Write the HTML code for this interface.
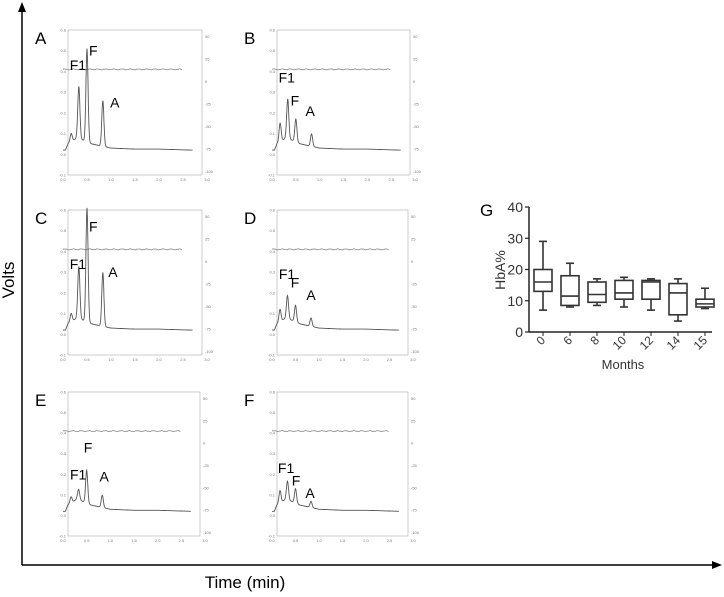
<!DOCTYPE html>
<html><head><meta charset="utf-8"><style>
body{margin:0;background:#fff;font-family:"Liberation Sans",sans-serif}
svg{display:block}
</style></head><body>
<svg id="fig" width="724" height="597">
<g>
<line x1="22" y1="565" x2="22" y2="8" stroke="#000" stroke-width="1.5"/>
<polygon points="22,2 18,12 26,12" fill="#000"/>
<line x1="22" y1="565" x2="715" y2="565" stroke="#000" stroke-width="1.5"/>
<polygon points="722,565 712,561 712,569" fill="#000"/>
<text x="14" y="280" font-size="17" text-anchor="middle" transform="rotate(-90 14 280)">Volts</text>
<text x="245" y="588" font-size="17" text-anchor="middle">Time (min)</text>
</g>
<g id="chroms"></g>
<g id="boxg"></g>
</svg>
<script>
const panelNames=["A","B","C","D","E","F"];
const peakTimes=[0.17,0.33,0.50,0.83];
const peakA=[0.04,0.25,0.45,0.22];
const peakB=[0.09,0.19,0.11,0.06];
const peakC=[0.04,0.25,0.55,0.26];
const peakD=[0.06,0.11,0.08,0.04];
const peakE=[0.03,0.05,0.16,0.06];
const peakF=[0.06,0.09,0.07,0.03];
const baseT=[0.0,0.05,0.1,0.3,0.6,1.0,1.5,2.0,2.7];
const baseV=[0.02,0.02,0.05,0.08,0.05,0.03,0.025,0.025,0.02];
const labF1=[[0.31,0.43],[0.31,0.37],[0.31,0.34],[0.32,0.29],[0.32,0.20],[0.30,0.23]];
const labF=[[0.63,0.50],[0.48,0.26],[0.63,0.52],[0.49,0.25],[0.53,0.33],[0.51,0.17]];
const labA=[[1.08,0.25],[0.80,0.21],[1.04,0.30],[0.83,0.19],[0.87,0.19],[0.81,0.11]];
const allPeaks=[peakA,peakB,peakC,peakD,peakE,peakF];
const frames=[[63,30,207,175],[272,30,415,175],[63,210,207,355],[272,210,413,355],[63,392,205,536],[272,392,413,536]];
const NS="http://www.w3.org/2000/svg";
function mk(t,a,p){const e=document.createElementNS(NS,t);for(const k in a)e.setAttribute(k,a[k]);p.appendChild(e);return e;}
function baseAt(t){for(let i=1;i<baseT.length;i++){if(t<=baseT[i]){const f=(t-baseT[i-1])/(baseT[i]-baseT[i-1]);return baseV[i-1]+f*(baseV[i]-baseV[i-1]);}}return baseV[baseV.length-1];}
const cg=document.getElementById('chroms');
frames.forEach((fr,pi)=>{
 const [x0,y0,x1,y1]=fr;
 const X=t=>x0+(t/3.0)*(x1-x0), Y=v=>y1-((v+0.1)/0.7)*(y1-y0);
 const g=mk('g',{},cg);
 
 
 mk('rect',{x:x0+5,y:y0,width:x1-x0-10,height:y1-y0,fill:'none',stroke:'#aaa','stroke-width':0.6},g);
 const lab=mk('text',{x:x0-28,y:y0+14,'font-size':17},g);lab.textContent=panelNames[pi];
 
 
 for(let i=0;i<=7;i++){const v=-0.1+i*0.1;const t=mk('text',{x:x0+3,y:Y(v)+1.5,'font-size':4,'text-anchor':'end',fill:'#777'},g);t.textContent=v.toFixed(1);}
 for(let i=0;i<=6;i++){const tt=i*0.5;const t=mk('text',{x:X(tt),y:y1+6,'font-size':4,'text-anchor':'middle',fill:'#777'},g);t.textContent=tt.toFixed(1);}
 const rt=["50","25","0","-25","-50","-75","-100"];
 rt.forEach((s,i)=>{const t=mk('text',{x:x1-2,y:y0+8+i*(y1-y0-10)/6,'font-size':4,fill:'#777'},g);t.textContent=s;});
 let d='';for(let t=0;t<=2.5;t+=0.02){const v=0.41+0.002*Math.sin(t*37)+0.001*Math.sin(t*91);d+=(d?'L':'M')+X(t).toFixed(1)+','+Y(v).toFixed(1);}
 mk('path',{d:d,fill:'none',stroke:'#888','stroke-width':0.8},g);
 const pk=allPeaks[pi];let d2='';
 for(let t=0.0;t<=2.7;t+=0.005){let v=baseAt(t);if(t<0.05)v=0.02;pk.forEach((h,k)=>{const s=peakTimes[k]; v+=h*Math.exp(-((t-s)**2)/(2*0.022*0.022));});d2+=(d2?'L':'M')+X(t).toFixed(1)+','+Y(v).toFixed(1);}
 mk('path',{d:d2,fill:'none',stroke:'#555','stroke-width':0.9},g);
 [["F1",labF1[pi]],["F",labF[pi]],["A",labA[pi]]].forEach(([s,p])=>{const t=mk('text',{x:X(p[0]),y:Y(p[1])+5,'font-size':14,'text-anchor':'middle'},g);t.textContent=s;});
});
const months=["0","6","8","10","12","14","15"];
const mins=[7,8,8.5,8,7,3.5,7.5];
const q1s=[13,8.5,9.5,10.5,10.5,5.5,8];
const meds=[16,11.5,12,12.5,16,12.5,9];
const q3s=[20,18,16,16.5,16.5,15.5,10.5];
const maxs=[29,22,17,17.5,17,17,14];
const yTicks=[0,10,20,30,40];
const bg=document.getElementById('boxg');
const gx0=529,gx1=712,gy0=207,gy1=332;
const YG=v=>gy1-(v/40)*(gy1-gy0);
const XG=i=>543+i*27;
const pg=mk('g',{},bg);


const gl=mk('text',{x:480,y:216,'font-size':17},pg);gl.textContent='G';
mk('line',{x1:gx0,y1:gy0,x2:gx0,y2:gy1,stroke:'#222','stroke-width':1.5},pg);
mk('line',{x1:gx0,y1:gy1,x2:gx1,y2:gy1,stroke:'#222','stroke-width':1.5},pg);
yTicks.forEach(v=>{mk('line',{x1:gx0-4,y1:YG(v),x2:gx0,y2:YG(v),stroke:'#222','stroke-width':1.2},pg);const t=mk('text',{x:gx0-6,y:YG(v)+5,'font-size':14,'text-anchor':'end',fill:'#333'},pg);t.textContent=v;});
const yt=mk('text',{x:505,y:270,'font-size':14,'text-anchor':'middle',fill:'#333',transform:'rotate(-90 505 270)'},pg);yt.textContent='HbA%';


const xt=mk('text',{x:623,y:369,'font-size':13,'text-anchor':'middle',fill:'#333'},pg);xt.textContent='Months';


months.forEach((m,i)=>{
 const cx=XG(i),w=18;
 const b=mk('g',{fill:'none',stroke:'#333','stroke-width':1.6},pg);
 
 
 mk('line',{x1:cx,y1:YG(maxs[i]),x2:cx,y2:YG(q3s[i])},b);
 mk('line',{x1:cx,y1:YG(q1s[i]),x2:cx,y2:YG(mins[i])},b);
 mk('line',{x1:cx-4,y1:YG(maxs[i]),x2:cx+4,y2:YG(maxs[i])},b);
 mk('line',{x1:cx-4,y1:YG(mins[i]),x2:cx+4,y2:YG(mins[i])},b);
 mk('rect',{x:cx-w/2,y:YG(q3s[i]),width:w,height:YG(q1s[i])-YG(q3s[i])},b);
 mk('line',{x1:cx-w/2,y1:YG(meds[i]),x2:cx+w/2,y2:YG(meds[i])},b);
 mk('line',{x1:cx,y1:gy1,x2:cx,y2:gy1+4},pg).setAttribute('stroke','#222');
 const t=mk('text',{x:cx+3,y:gy1+9,'font-size':12,fill:'#333','text-anchor':'end',transform:`rotate(-45 ${cx+3} ${gy1+9})`},pg);t.textContent=m;
});
</script>
</body></html>
